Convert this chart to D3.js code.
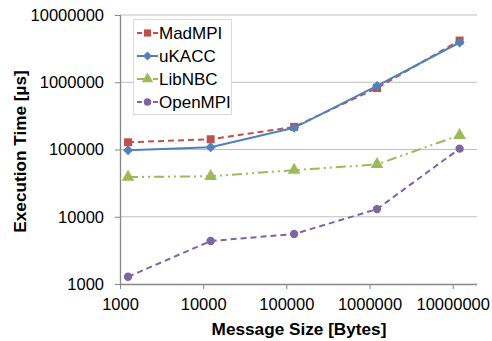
<!DOCTYPE html>
<html>
<head>
<meta charset="utf-8">
<script src="https://cdn.jsdelivr.net/npm/d3@7"></script>
<style>
  body { margin: 0; background: #fff; }
  text { font-family: "Liberation Sans", Arial, sans-serif; }
</style>
</head>
<body>
<div id="chart"></div>
<script>
// message sizes (bytes)
var sizes = [1250, 12300, 124000, 1230000, 12100000];
var madmpi = [128000, 142000, 217000, 822000, 4170000];
var ukacc = [97700, 108000, 210000, 881000, 3900000];
var libnbc = [39000, 40000, 49300, 60000, 163000];
var openmpi = [1280, 4360, 5530, 13000, 103000];
var seriesNames = ["MadMPI", "uKACC", "LibNBC", "OpenMPI"];
var xTicks = [1000, 10000, 100000, 1000000, 10000000];
var yTicks = [1000, 10000, 100000, 1000000, 10000000];

var width = 492, height = 341;
var margin = {left: 120, right: 15, top: 15, bottom: 57};

var svg = d3.select("#chart")
  .append("svg")
  .attr("width", width)
  .attr("height", height);

var x = d3.scaleLog()
  .domain([1000, Math.pow(10, 7.292)])
  .range([margin.left, width - margin.right]);

var y = d3.scaleLog()
  .domain([1000, 10000000])
  .range([height - margin.bottom, margin.top]);

// horizontal gridlines
svg.append("g")
  .selectAll("line")
  .data(yTicks.slice(1))
  .enter()
  .append("line")
  .attr("x1", margin.left)
  .attr("x2", width - margin.right)
  .attr("y1", d => y(d))
  .attr("y2", d => y(d))
  .style("stroke", "#bfbfbf")
  .style("stroke-width", 1);

// y axis
var yAxis = svg.append("g")
  .attr("transform", "translate(" + margin.left + ",0)")
  .call(d3.axisLeft(y).tickValues(yTicks).tickFormat(d3.format("d")).tickSize(5).tickPadding(11));

// x axis
var xAxis = svg.append("g")
  .attr("transform", "translate(0," + (height - margin.bottom) + ")")
  .call(d3.axisBottom(x).tickValues(xTicks).tickFormat(d3.format("d")).tickSize(5).tickPadding(9));

[yAxis, xAxis].forEach(function (ax) {
  ax.select(".domain").style("stroke", "#868686").style("stroke-width", 1.3);
  ax.selectAll(".tick line").style("stroke", "#868686");
  ax.selectAll(".tick text")
    .style("font-size", "16.5px")
    .style("fill", "#000")
    .style("font-family", "Liberation Sans, Arial, sans-serif");
});
xAxis.select(".domain").attr("d", "M" + margin.left + ",0.5H" + (width - margin.right));
yAxis.select(".domain").attr("d", "M0.5," + (height - margin.bottom) + "V" + margin.top);

// axis titles
svg.append("text")
  .attr("x", 299)
  .attr("y", 335)
  .attr("text-anchor", "middle")
  .style("font-size", "17.2px")
  .style("font-weight", "bold")
  .text("Message Size [Bytes]");

svg.append("text")
  .attr("transform", "translate(26,151.5) rotate(-90)")
  .attr("text-anchor", "middle")
  .style("font-size", "17.2px")
  .style("font-weight", "bold")
  .text("Execution Time [µs]");

var series = [
  {name: seriesNames[0], values: madmpi, color: "#C0504D", dash: "6,4", shape: d3.symbolSquare, size: 64, rot: 0},
  {name: seriesNames[1], values: ukacc, color: "#4F81BD", dash: null, shape: d3.symbolSquare, size: 50, rot: 45},
  {name: seriesNames[2], values: libnbc, color: "#9BBB59", dash: "10,4,2,4,2,4", shape: d3.symbolTriangle, size: 70, rot: 0},
  {name: seriesNames[3], values: openmpi, color: "#8064A2", dash: "6,4", shape: d3.symbolCircle, size: 55, rot: 0}
];

var line = d3.line()
  .x(d => x(d[0]))
  .y(d => y(d[1]));

// draw back to front so uKACC sits on top of MadMPI
[3, 2, 0, 1].forEach(function (i) {
  var s = series[i];
  var pts = sizes.map((v, j) => [v, s.values[j]]);
  svg.append("path")
    .datum(pts)
    .attr("d", line)
    .style("fill", "none")
    .style("stroke", s.color)
    .style("stroke-width", 2)
    .style("stroke-dasharray", s.dash);
  svg.append("g")
    .selectAll("path")
    .data(pts)
    .enter()
    .append("path")
    .attr("transform", d => "translate(" + x(d[0]) + "," + y(d[1]) + ") rotate(" + s.rot + ")")
    .attr("d", d3.symbol().type(s.shape).size(s.size))
    .style("fill", s.color);
});

// legend
var legend = svg.append("g");
legend.append("rect")
  .attr("x", 133.5)
  .attr("y", 19.5)
  .attr("width", 98)
  .attr("height", 95)
  .style("fill", "#fff")
  .style("stroke", "#d9d9d9");

series.forEach(function (s, i) {
  var ly = 33 + i * 23;
  legend.append("line")
    .attr("x1", 137).attr("x2", 158)
    .attr("y1", ly).attr("y2", ly)
    .style("stroke", s.color)
    .style("stroke-width", 2)
    .style("stroke-dasharray", s.dash ? (i == 2 ? "8,3,2,3" : "5,3") : null);
  legend.append("path")
    .attr("transform", "translate(147.5," + ly + ") rotate(" + s.rot + ")")
    .attr("d", d3.symbol().type(s.shape).size(s.size * 0.8))
    .style("fill", s.color);
  legend.append("text")
    .attr("x", 159)
    .attr("y", ly + 6)
    .style("font-size", "17px")
    .text(s.name);
});
</script>
</body>
</html>
